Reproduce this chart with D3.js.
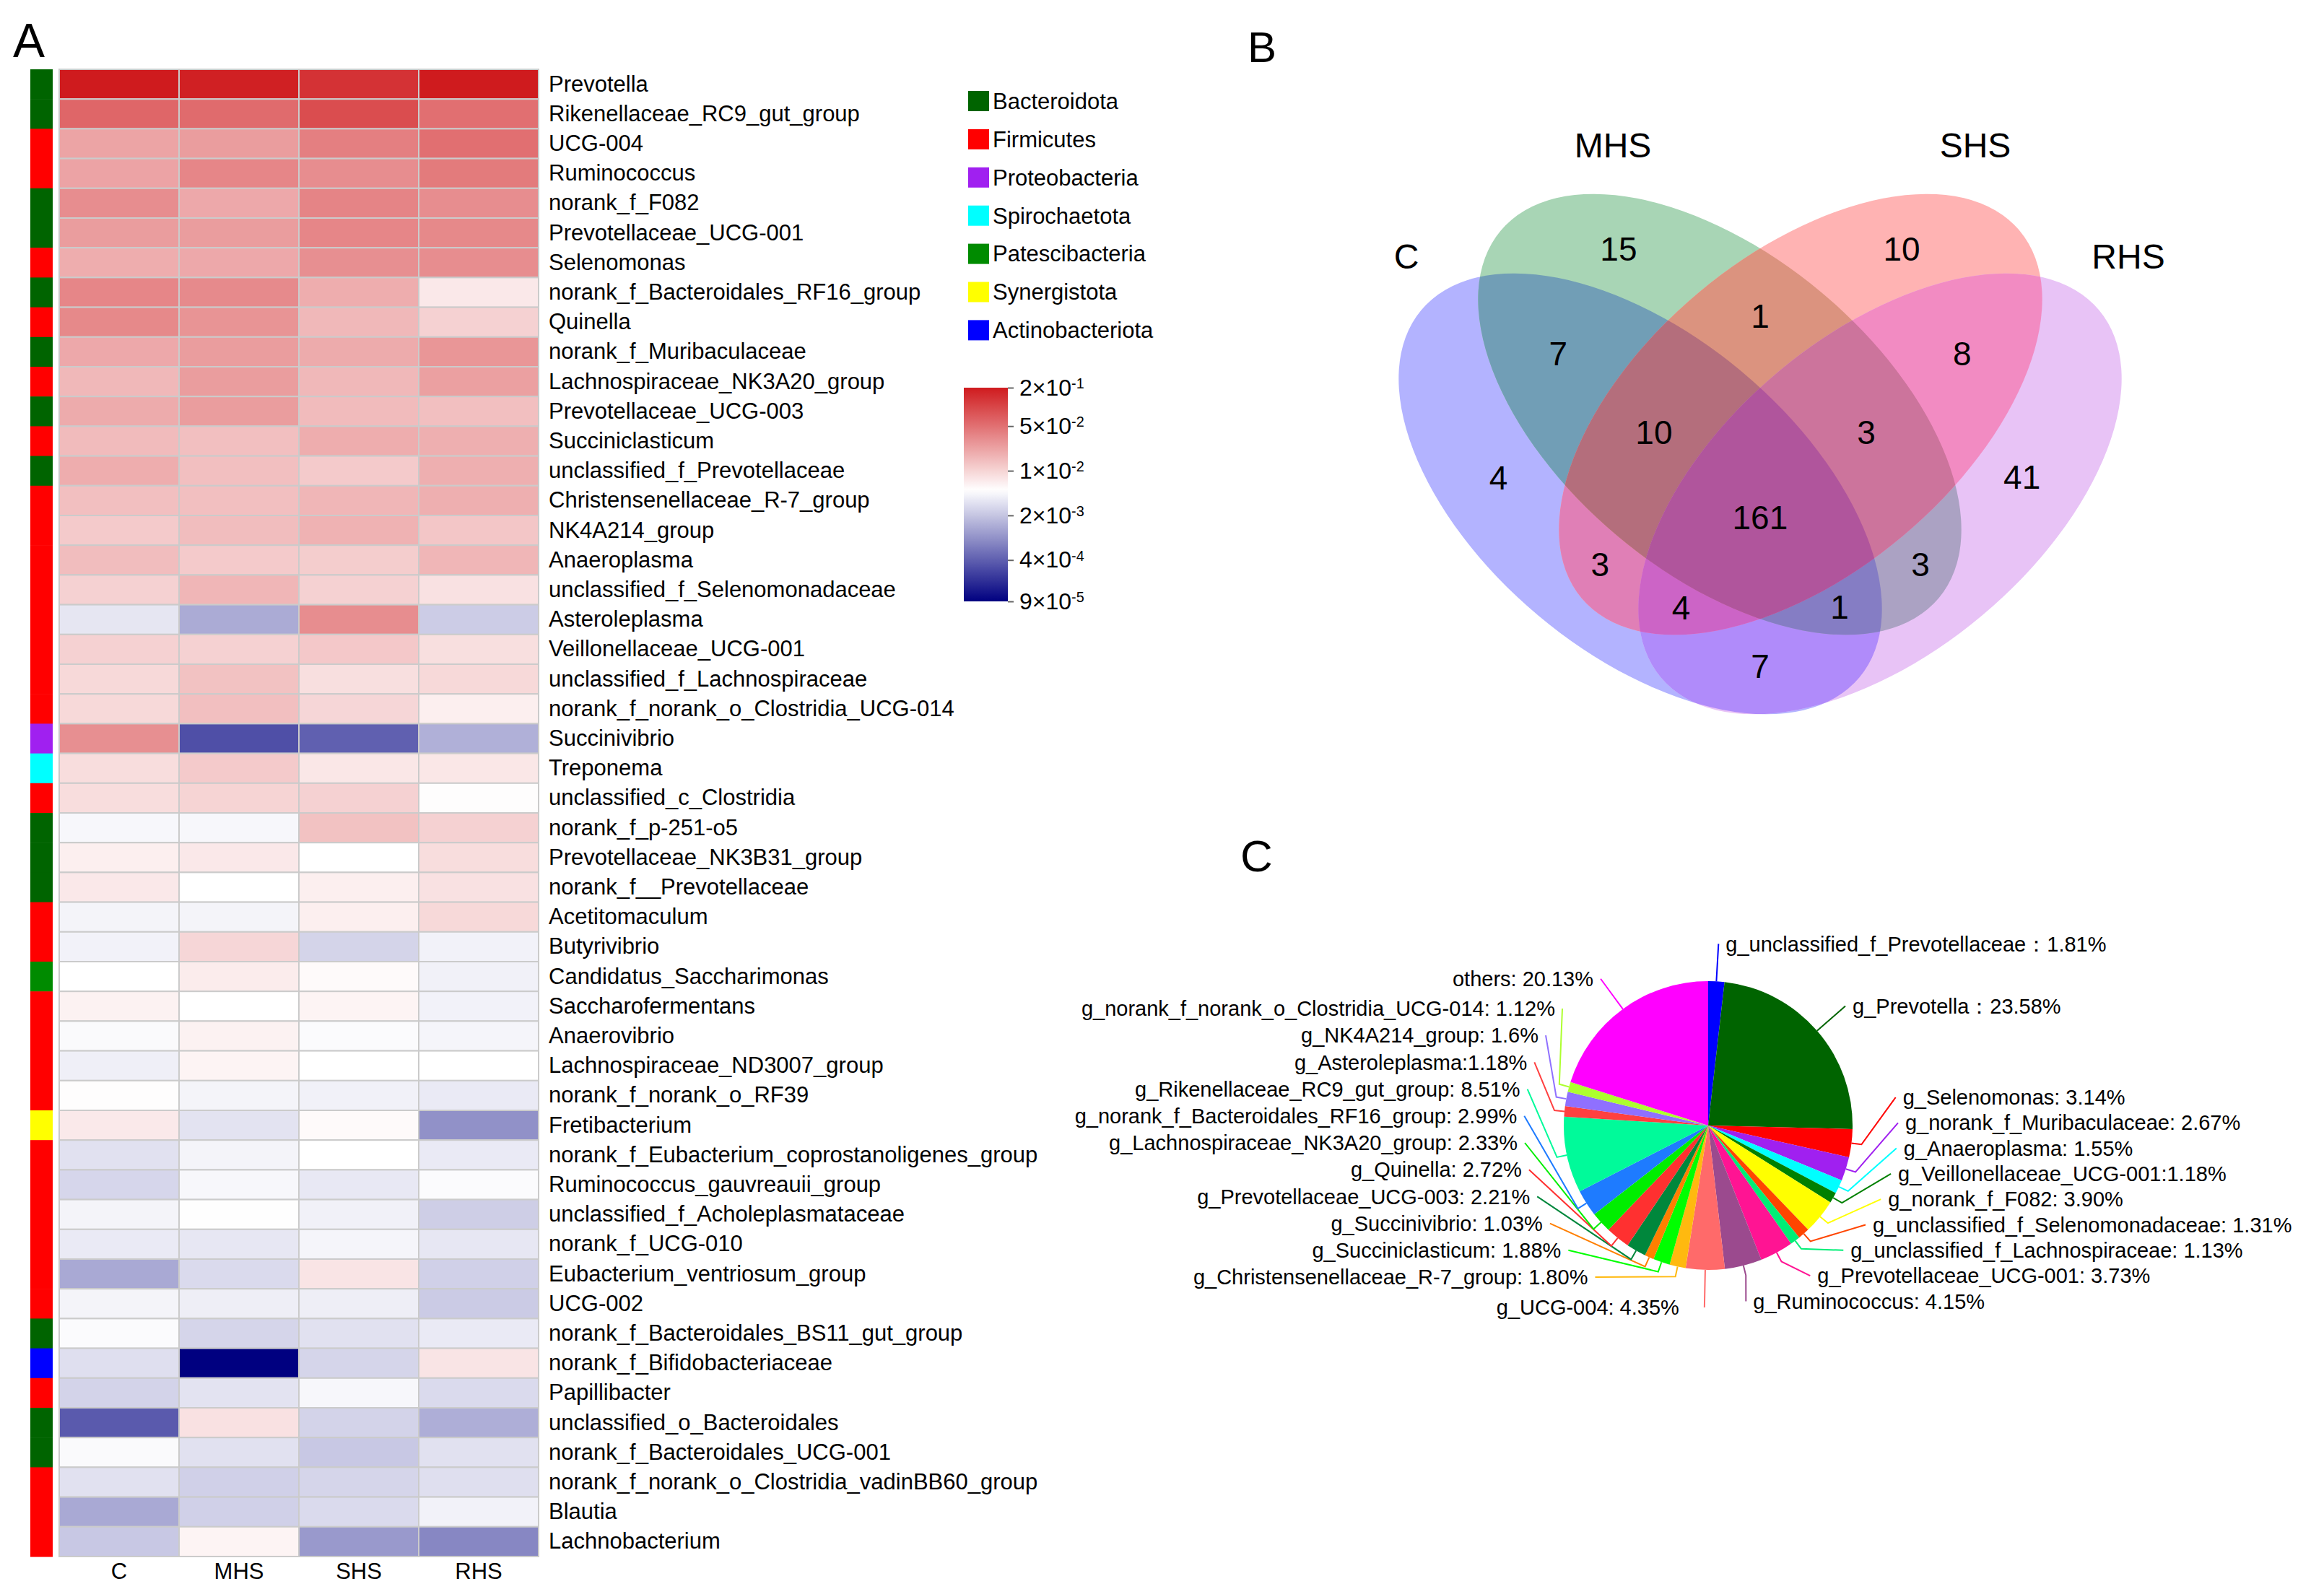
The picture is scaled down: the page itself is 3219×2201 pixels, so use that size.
<!DOCTYPE html>
<html>
<head>
<meta charset="utf-8">
<script src="https://cdn.jsdelivr.net/npm/d3@7"></script>
<style>
  body { margin: 0; background: #fff; }
</style>
</head>
<body>
<svg id="fig"></svg>
<script>
// ---------- data ----------
var groups = ["C", "MHS", "SHS", "RHS"];

var genera = ["Prevotella", "Rikenellaceae_RC9_gut_group", "UCG-004", "Ruminococcus", "norank_f_F082",
  "Prevotellaceae_UCG-001", "Selenomonas", "norank_f_Bacteroidales_RF16_group", "Quinella", "norank_f_Muribaculaceae",
  "Lachnospiraceae_NK3A20_group", "Prevotellaceae_UCG-003", "Succiniclasticum", "unclassified_f_Prevotellaceae",
  "Christensenellaceae_R-7_group", "NK4A214_group", "Anaeroplasma", "unclassified_f_Selenomonadaceae", "Asteroleplasma",
  "Veillonellaceae_UCG-001", "unclassified_f_Lachnospiraceae", "norank_f_norank_o_Clostridia_UCG-014", "Succinivibrio",
  "Treponema", "unclassified_c_Clostridia", "norank_f_p-251-o5", "Prevotellaceae_NK3B31_group", "norank_f__Prevotellaceae",
  "Acetitomaculum", "Butyrivibrio", "Candidatus_Saccharimonas", "Saccharofermentans", "Anaerovibrio",
  "Lachnospiraceae_ND3007_group", "norank_f_norank_o_RF39", "Fretibacterium", "norank_f_Eubacterium_coprostanoligenes_group",
  "Ruminococcus_gauvreauii_group", "unclassified_f_Acholeplasmataceae", "norank_f_UCG-010", "Eubacterium_ventriosum_group",
  "UCG-002", "norank_f_Bacteroidales_BS11_gut_group", "norank_f_Bifidobacteriaceae", "Papillibacter",
  "unclassified_o_Bacteroidales", "norank_f_Bacteroidales_UCG-001", "norank_f_norank_o_Clostridia_vadinBB60_group",
  "Blautia", "Lachnobacterium"];

var generaPhylum = ["Bacteroidota", "Bacteroidota", "Firmicutes", "Firmicutes", "Bacteroidota",
  "Bacteroidota", "Firmicutes", "Bacteroidota", "Firmicutes", "Bacteroidota",
  "Firmicutes", "Bacteroidota", "Firmicutes", "Bacteroidota",
  "Firmicutes", "Firmicutes", "Firmicutes", "Firmicutes", "Firmicutes",
  "Firmicutes", "Firmicutes", "Firmicutes", "Proteobacteria",
  "Spirochaetota", "Firmicutes", "Bacteroidota", "Bacteroidota", "Bacteroidota",
  "Firmicutes", "Firmicutes", "Patescibacteria", "Firmicutes", "Firmicutes",
  "Firmicutes", "Firmicutes", "Synergistota", "Firmicutes",
  "Firmicutes", "Firmicutes", "Firmicutes", "Firmicutes",
  "Firmicutes", "Bacteroidota", "Actinobacteriota", "Firmicutes",
  "Bacteroidota", "Bacteroidota", "Firmicutes",
  "Firmicutes", "Firmicutes"];

// relative abundance per group
var abundC = [0.21, 0.059, 0.0219, 0.022, 0.0316, 0.0244, 0.0189, 0.0353, 0.034, 0.0203,
  0.0157, 0.0196, 0.0151, 0.0189, 0.014, 0.0117, 0.0146, 0.0105, 0.00335, 0.0105,
  0.0093, 0.0093, 0.0306, 0.0087, 0.0087, 0.0044, 0.0065, 0.0072, 0.0042, 0.0041,
  0.005, 0.0062, 0.0046, 0.0039, 0.0052, 0.0071, 0.0031, 0.00264, 0.0042, 0.0036,
  0.00128, 0.0042, 0.0047, 0.003, 0.0025, 0.00037, 0.0046, 0.0031, 0.0013, 0.0021];
var abundMHS = [0.185, 0.055, 0.0244, 0.0353, 0.0203, 0.0244, 0.0203, 0.033, 0.0283, 0.0244,
  0.0244, 0.0244, 0.014, 0.014, 0.014, 0.0146, 0.0117, 0.0163, 0.00133, 0.0105,
  0.0135, 0.014, 0.00031, 0.0117, 0.0101, 0.0044, 0.0072, 0.005, 0.0042, 0.0097,
  0.0068, 0.005, 0.0062, 0.006, 0.0042, 0.0032, 0.0042, 0.0044, 0.0049, 0.0034,
  0.0028, 0.0038, 0.0026, 0.00009, 0.0032, 0.0081, 0.0031, 0.0024, 0.0024, 0.006];
var abundSHS = [0.138, 0.089, 0.0394, 0.0316, 0.0366, 0.0353, 0.0306, 0.0189, 0.0157, 0.0196,
  0.0157, 0.0151, 0.0189, 0.0117, 0.0163, 0.0175, 0.0113, 0.0105, 0.0316, 0.0121,
  0.0084, 0.0097, 0.00041, 0.0074, 0.0105, 0.0135, 0.005, 0.0065, 0.0065, 0.00253,
  0.0054, 0.006, 0.0047, 0.005, 0.004, 0.0054, 0.005, 0.0035, 0.004, 0.0043,
  0.0077, 0.0038, 0.0031, 0.0026, 0.0044, 0.0025, 0.0021, 0.0026, 0.0028, 0.001];
var abundRHS = [0.2, 0.051, 0.051, 0.0425, 0.0316, 0.034, 0.0316, 0.0072, 0.0105, 0.0273,
  0.0234, 0.014, 0.0182, 0.0182, 0.0182, 0.0126, 0.0163, 0.0081, 0.00224, 0.0084,
  0.0093, 0.0065, 0.00144, 0.0074, 0.0052, 0.0105, 0.0087, 0.0081, 0.0093, 0.0041,
  0.004, 0.0041, 0.0043, 0.005, 0.0036, 0.00089, 0.0036, 0.0047, 0.0023, 0.0034,
  0.0024, 0.0022, 0.0036, 0.0077, 0.0028, 0.0014, 0.0031, 0.003, 0.0041, 0.00076];

var phyla = ["Bacteroidota", "Firmicutes", "Proteobacteria", "Spirochaetota", "Patescibacteria", "Synergistota", "Actinobacteriota"];
var phylumColors = ["#006400", "#ff0000", "#a020f0", "#00ffff", "#008b00", "#ffff00", "#0000ff"];

var scaleTicks = [2e-1, 5e-2, 1e-2, 2e-3, 4e-4, 9e-5];

// Venn: sets and the count of every region
var vennSets = ["C", "MHS", "SHS", "RHS"];
var vennRegionSets = [["C"], ["MHS"], ["SHS"], ["RHS"],
  ["C", "MHS"], ["C", "SHS"], ["C", "RHS"], ["MHS", "SHS"], ["MHS", "RHS"], ["SHS", "RHS"],
  ["C", "MHS", "SHS"], ["C", "MHS", "RHS"], ["C", "SHS", "RHS"], ["MHS", "SHS", "RHS"],
  ["C", "MHS", "SHS", "RHS"]];
var vennCounts = [4, 15, 10, 41, 7, 3, 7, 1, 3, 8, 10, 1, 4, 3, 161];

// pie (percent of total)
var pieLabels = ["g_unclassified_f_Prevotellaceae：1.81%", "g_Prevotella：23.58%", "g_Selenomonas: 3.14%",
  "g_norank_f_Muribaculaceae: 2.67%", "g_Anaeroplasma: 1.55%", "g_Veillonellaceae_UCG-001:1.18%",
  "g_norank_f_F082: 3.90%", "g_unclassified_f_Selenomonadaceae: 1.31%", "g_unclassified_f_Lachnospiraceae: 1.13%",
  "g_Prevotellaceae_UCG-001: 3.73%", "g_Ruminococcus: 4.15%", "g_UCG-004: 4.35%",
  "g_Christensenellaceae_R-7_group: 1.80%", "g_Succiniclasticum: 1.88%", "g_Succinivibrio: 1.03%",
  "g_Prevotellaceae_UCG-003: 2.21%", "g_Quinella: 2.72%", "g_Lachnospiraceae_NK3A20_group: 2.33%",
  "g_norank_f_Bacteroidales_RF16_group: 2.99%", "g_Rikenellaceae_RC9_gut_group: 8.51%", "g_Asteroleplasma:1.18%",
  "g_NK4A214_group: 1.6%", "g_norank_f_norank_o_Clostridia_UCG-014: 1.12%", "others: 20.13%"];
var piePct = [1.81, 23.58, 3.14, 2.67, 1.55, 1.18, 3.90, 1.31, 1.13, 3.73, 4.15, 4.35,
  1.80, 1.88, 1.03, 2.21, 2.72, 2.33, 2.99, 8.51, 1.18, 1.6, 1.12, 20.13];
var pieColors = ["#0000ff", "#006400", "#ff0000", "#a020f0", "#00ffff", "#008000", "#ffff00", "#ff4500",
  "#00ee76", "#ff1493", "#9b4a8e", "#ff6a6a", "#ffb90f", "#00ff00", "#ff7f00", "#00873c", "#ff3030",
  "#00ee00", "#1e7bff", "#00fa9a", "#ff4040", "#8f70ff", "#adff2f", "#ff00ff"];

// ---------- setup ----------
var W = 3219, H = 2201;
var FONT = "'Liberation Sans', Arial, sans-serif";
var svg = d3.select("#fig").attr("width", W).attr("height", H)
  .attr("font-family", FONT);
svg.append("rect").attr("width", W).attr("height", H).attr("fill", "#fff");

// panel letters
svg.append("text").attr("x", 18).attr("y", 79).attr("font-size", 66).text("A");
svg.append("text").attr("x", 1728).attr("y", 86).attr("font-size", 60).text("B");
svg.append("text").attr("x", 1718).attr("y", 1207).attr("font-size", 62).text("C");

// ---------- A: heatmap ----------
var hm = {left: 82, right: 746, top: 96, bottom: 2156};
var x = d3.scaleBand().domain(groups).range([hm.left, hm.right]);
var y = d3.scaleBand().domain(genera).range([hm.top, hm.bottom]);
var color = d3.scaleLog().domain([9e-5, 5e-3, 2e-1])
  .range(["#000080", "#ffffff", "#cf1b1e"]).clamp(true);
var phylumColor = d3.scaleOrdinal(phyla, phylumColors);

var columns = [abundC, abundMHS, abundSHS, abundRHS];
var cells = [];
genera.forEach(function(g, i) {
  groups.forEach(function(grp, j) {
    cells.push({genus: g, group: grp, value: columns[j][i]});
  });
});

// phylum side bar
svg.append("g").selectAll("rect").data(genera).join("rect")
  .attr("x", 42).attr("width", 31)
  .attr("y", function(d) { return y(d); })
  .attr("height", y.bandwidth() + 0.6)
  .attr("fill", function(d, i) { return phylumColor(generaPhylum[i]); });

svg.append("g").selectAll("rect").data(cells).join("rect")
  .attr("x", function(d) { return x(d.group); })
  .attr("y", function(d) { return y(d.genus); })
  .attr("width", x.bandwidth())
  .attr("height", y.bandwidth())
  .attr("fill", function(d) { return color(d.value); })
  .attr("stroke", "#cbcbcb")
  .attr("stroke-width", 2);

var rowAxis = svg.append("g")
  .attr("transform", "translate(" + hm.right + ",0)")
  .call(d3.axisRight(y).tickSize(0).tickPadding(14));
rowAxis.select(".domain").remove();
rowAxis.attr("font-size", 31).attr("font-family", FONT);

var colAxis = svg.append("g")
  .attr("transform", "translate(0," + hm.bottom + ")")
  .call(d3.axisBottom(x).tickSize(0).tickPadding(9));
colAxis.select(".domain").remove();
colAxis.attr("font-size", 31).attr("font-family", FONT);

// phylum legend
var leg = svg.append("g");
phyla.forEach(function(p, k) {
  var cy = 140 + k * 52.9;
  leg.append("rect").attr("x", 1341).attr("y", cy - 14).attr("width", 29).attr("height", 28)
    .attr("fill", phylumColors[k]);
  leg.append("text").attr("x", 1375).attr("y", cy).attr("dy", "0.35em")
    .attr("font-size", 31).text(p);
});

// colour bar
var cbY = d3.scaleLog().domain([9e-5, 2e-1]).range([833, 537]);
var grad = svg.append("defs").append("linearGradient").attr("id", "cbGrad")
  .attr("x1", 0).attr("y1", 0).attr("x2", 0).attr("y2", 1);
d3.range(0, 41).forEach(function(k) {
  var v = cbY.invert(537 + (833 - 537) * k / 40);
  grad.append("stop").attr("offset", (k / 40 * 100) + "%").attr("stop-color", color(v));
});
svg.append("rect").attr("x", 1335).attr("y", 537).attr("width", 61).attr("height", 296)
  .attr("fill", "url(#cbGrad)");
var cbAxis = svg.append("g").attr("transform", "translate(1396,0)")
  .call(d3.axisRight(cbY).tickValues(scaleTicks).tickSize(8).tickPadding(8));
cbAxis.select(".domain").remove();
cbAxis.attr("font-size", 32).attr("font-family", FONT);
cbAxis.selectAll(".tick line").attr("stroke", "#666").attr("stroke-width", 2);
cbAxis.selectAll(".tick text").each(function(d) {
  var e = Math.floor(Math.log10(d) + 1e-9);
  var m = Math.round(d / Math.pow(10, e));
  var t = d3.select(this).text("");
  t.append("tspan").text(m + "\u00d710");
  t.append("tspan").attr("dy", "-0.5em").attr("font-size", "62%").text(e);
});

// ---------- B: Venn ----------
var X0 = 2438;
var ellA = 396, ellB = 220;
var ellipses = {
  C:   {cx: X0 - 166, cy: 684, rot: 40},
  MHS: {cx: X0 - 56,  cy: 574, rot: 40},
  SHS: {cx: X0 + 56,  cy: 574, rot: -40},
  RHS: {cx: X0 + 166, cy: 684, rot: -40}
};
var regionColors = {
  "C": "#b3b3ff", "MHS": "#a8d5b5", "SHS": "#ffb3b3", "RHS": "#e8c3f6",
  "C,MHS": "#719eb6", "C,SHS": "#e07fb6", "C,RHS": "#b08bfa", "MHS,SHS": "#db937f",
  "MHS,RHS": "#aba2c3", "SHS,RHS": "#f28bc2",
  "C,MHS,SHS": "#b46e7c", "C,MHS,RHS": "#857dc4", "C,SHS,RHS": "#cc64c6", "MHS,SHS,RHS": "#cc749c",
  "C,MHS,SHS,RHS": "#b0559c"
};

var vdefs = svg.append("defs");
function addEllipse(sel, s) {
  var e = ellipses[s];
  return sel.append("ellipse").attr("cx", e.cx).attr("cy", e.cy)
    .attr("rx", ellA).attr("ry", ellB)
    .attr("transform", "rotate(" + e.rot + "," + e.cx + "," + e.cy + ")");
}
vennSets.forEach(function(s) {
  addEllipse(vdefs.append("clipPath").attr("id", "clip-" + s), s);
});

// paint intersections from single sets up to all four, each over the last
var venn = svg.append("g");
var regions = vennRegionSets.map(function(sets, i) { return {sets: sets, count: vennCounts[i]}; });
regions.slice().sort(function(p, q) { return p.sets.length - q.sets.length; }).forEach(function(r) {
  var g = venn;
  r.sets.slice(0, -1).forEach(function(s) {
    g = g.append("g").attr("clip-path", "url(#clip-" + s + ")");
  });
  addEllipse(g, r.sets[r.sets.length - 1]).attr("fill", regionColors[r.sets.join(",")]);
});

// count label at the centroid of each region (sampled on a grid)
function insideEllipse(e, px, py) {
  var t = e.rot * Math.PI / 180, c = Math.cos(t), s = Math.sin(t);
  var dx = px - e.cx, dy = py - e.cy;
  var u = dx * c + dy * s, v = -dx * s + dy * c;
  return u * u / (ellA * ellA) + v * v / (ellB * ellB) < 1;
}
regions.forEach(function(r) { r.sx = 0; r.sy = 0; r.n = 0; });
for (var gx = 1930; gx <= 2950; gx += 3) {
  for (var gy = 260; gy <= 1000; gy += 3) {
    var key = vennSets.filter(function(s) { return insideEllipse(ellipses[s], gx, gy); }).join(",");
    regions.forEach(function(r) {
      if (r.sets.join(",") === key) { r.sx += gx; r.sy += gy; r.n++; }
    });
  }
}
venn.selectAll("text.count").data(regions).join("text")
  .attr("class", "count")
  .attr("x", function(r) { return r.sx / r.n; })
  .attr("y", function(r) { return r.sy / r.n; })
  .attr("dy", "0.36em")
  .attr("text-anchor", "middle")
  .attr("font-family", "'Liberation Sans Narrow', 'Arial Narrow', " + FONT)
  .attr("font-size", 46)
  .text(function(r) { return r.count; });

var setLabelPos = {C: [X0 - 490, 372], MHS: [X0 - 204, 218], SHS: [X0 + 298, 218], RHS: [X0 + 510, 372]};
vennSets.forEach(function(s) {
  venn.append("text").attr("x", setLabelPos[s][0]).attr("y", setLabelPos[s][1])
    .attr("text-anchor", "middle").attr("font-size", 48).text(s);
});

// ---------- C: pie ----------
var pcx = 2366, pcy = 1559, pr = 200;
var arcs = d3.pie().sort(null).value(function(d) { return d; })(piePct);
var arc = d3.arc().innerRadius(0).outerRadius(pr);
var pie = svg.append("g").attr("transform", "translate(" + pcx + "," + pcy + ")");
pie.selectAll("path").data(arcs).join("path")
  .attr("d", arc)
  .attr("fill", function(d, i) { return pieColors[i]; });

var rightStack = [], leftStack = [];
arcs.forEach(function(a, i) {
  a.i = i;
  a.mid = (a.startAngle + a.endAngle) / 2;
  var dg = a.mid * 180 / Math.PI;
  if (dg > 90 && dg < 175) rightStack.push(a);
  else if (dg > 185 && dg < 300) leftStack.push(a);
  else a.radial = true;
});
function polar(r, ang) { return [pcx + r * Math.sin(ang), pcy - r * Math.cos(ang)]; }
rightStack.sort(function(p, q) { return p.mid - q.mid; }).forEach(function(a, k) {
  a.ly = 1520 + k * 35.3;
  a.lx = pcx + 273 * Math.sqrt(Math.max(0, 1 - Math.pow((a.ly - pcy) / 250, 2)));
  a.anchor = "start";
  a.pts = [polar(pr, a.mid), polar(pr + 14, a.mid), [a.lx - 10, a.ly]];
});
leftStack.sort(function(p, q) { return p.mid - q.mid; }).forEach(function(a, k) {
  a.ly = 1769 - k * 37.2;
  a.lx = pcx - 265 * Math.sqrt(Math.max(0, 1 - Math.pow((a.ly - pcy) / 270, 2)));
  a.anchor = "end";
  a.pts = [polar(pr, a.mid), polar(pr + 14, a.mid), [a.lx + 10, a.ly]];
});
arcs.filter(function(a) { return a.radial; }).forEach(function(a) {
  var p = polar(252, a.mid);
  var right = Math.sin(a.mid) > 0;
  var gap = 10 + 25 * Math.max(0, -Math.cos(a.mid));
  a.anchor = right ? "start" : "end";
  a.lx = p[0] + (right ? gap : -gap);
  a.ly = p[1];
  a.pts = [polar(pr, a.mid), polar(230, a.mid), p];
});

var line = d3.line();
svg.append("g").selectAll("path").data(arcs).join("path")
  .attr("d", function(a) { return line(a.pts); })
  .attr("fill", "none")
  .attr("stroke", function(a) { return pieColors[a.i]; })
  .attr("stroke-width", 2);
svg.append("g").selectAll("text").data(arcs).join("text")
  .attr("x", function(a) { return a.lx; })
  .attr("y", function(a) { return a.ly; })
  .attr("dy", "0.35em")
  .attr("text-anchor", function(a) { return a.anchor; })
  .attr("font-size", 29)
  .text(function(a) { return pieLabels[a.i]; });
</script>
</body>
</html>
